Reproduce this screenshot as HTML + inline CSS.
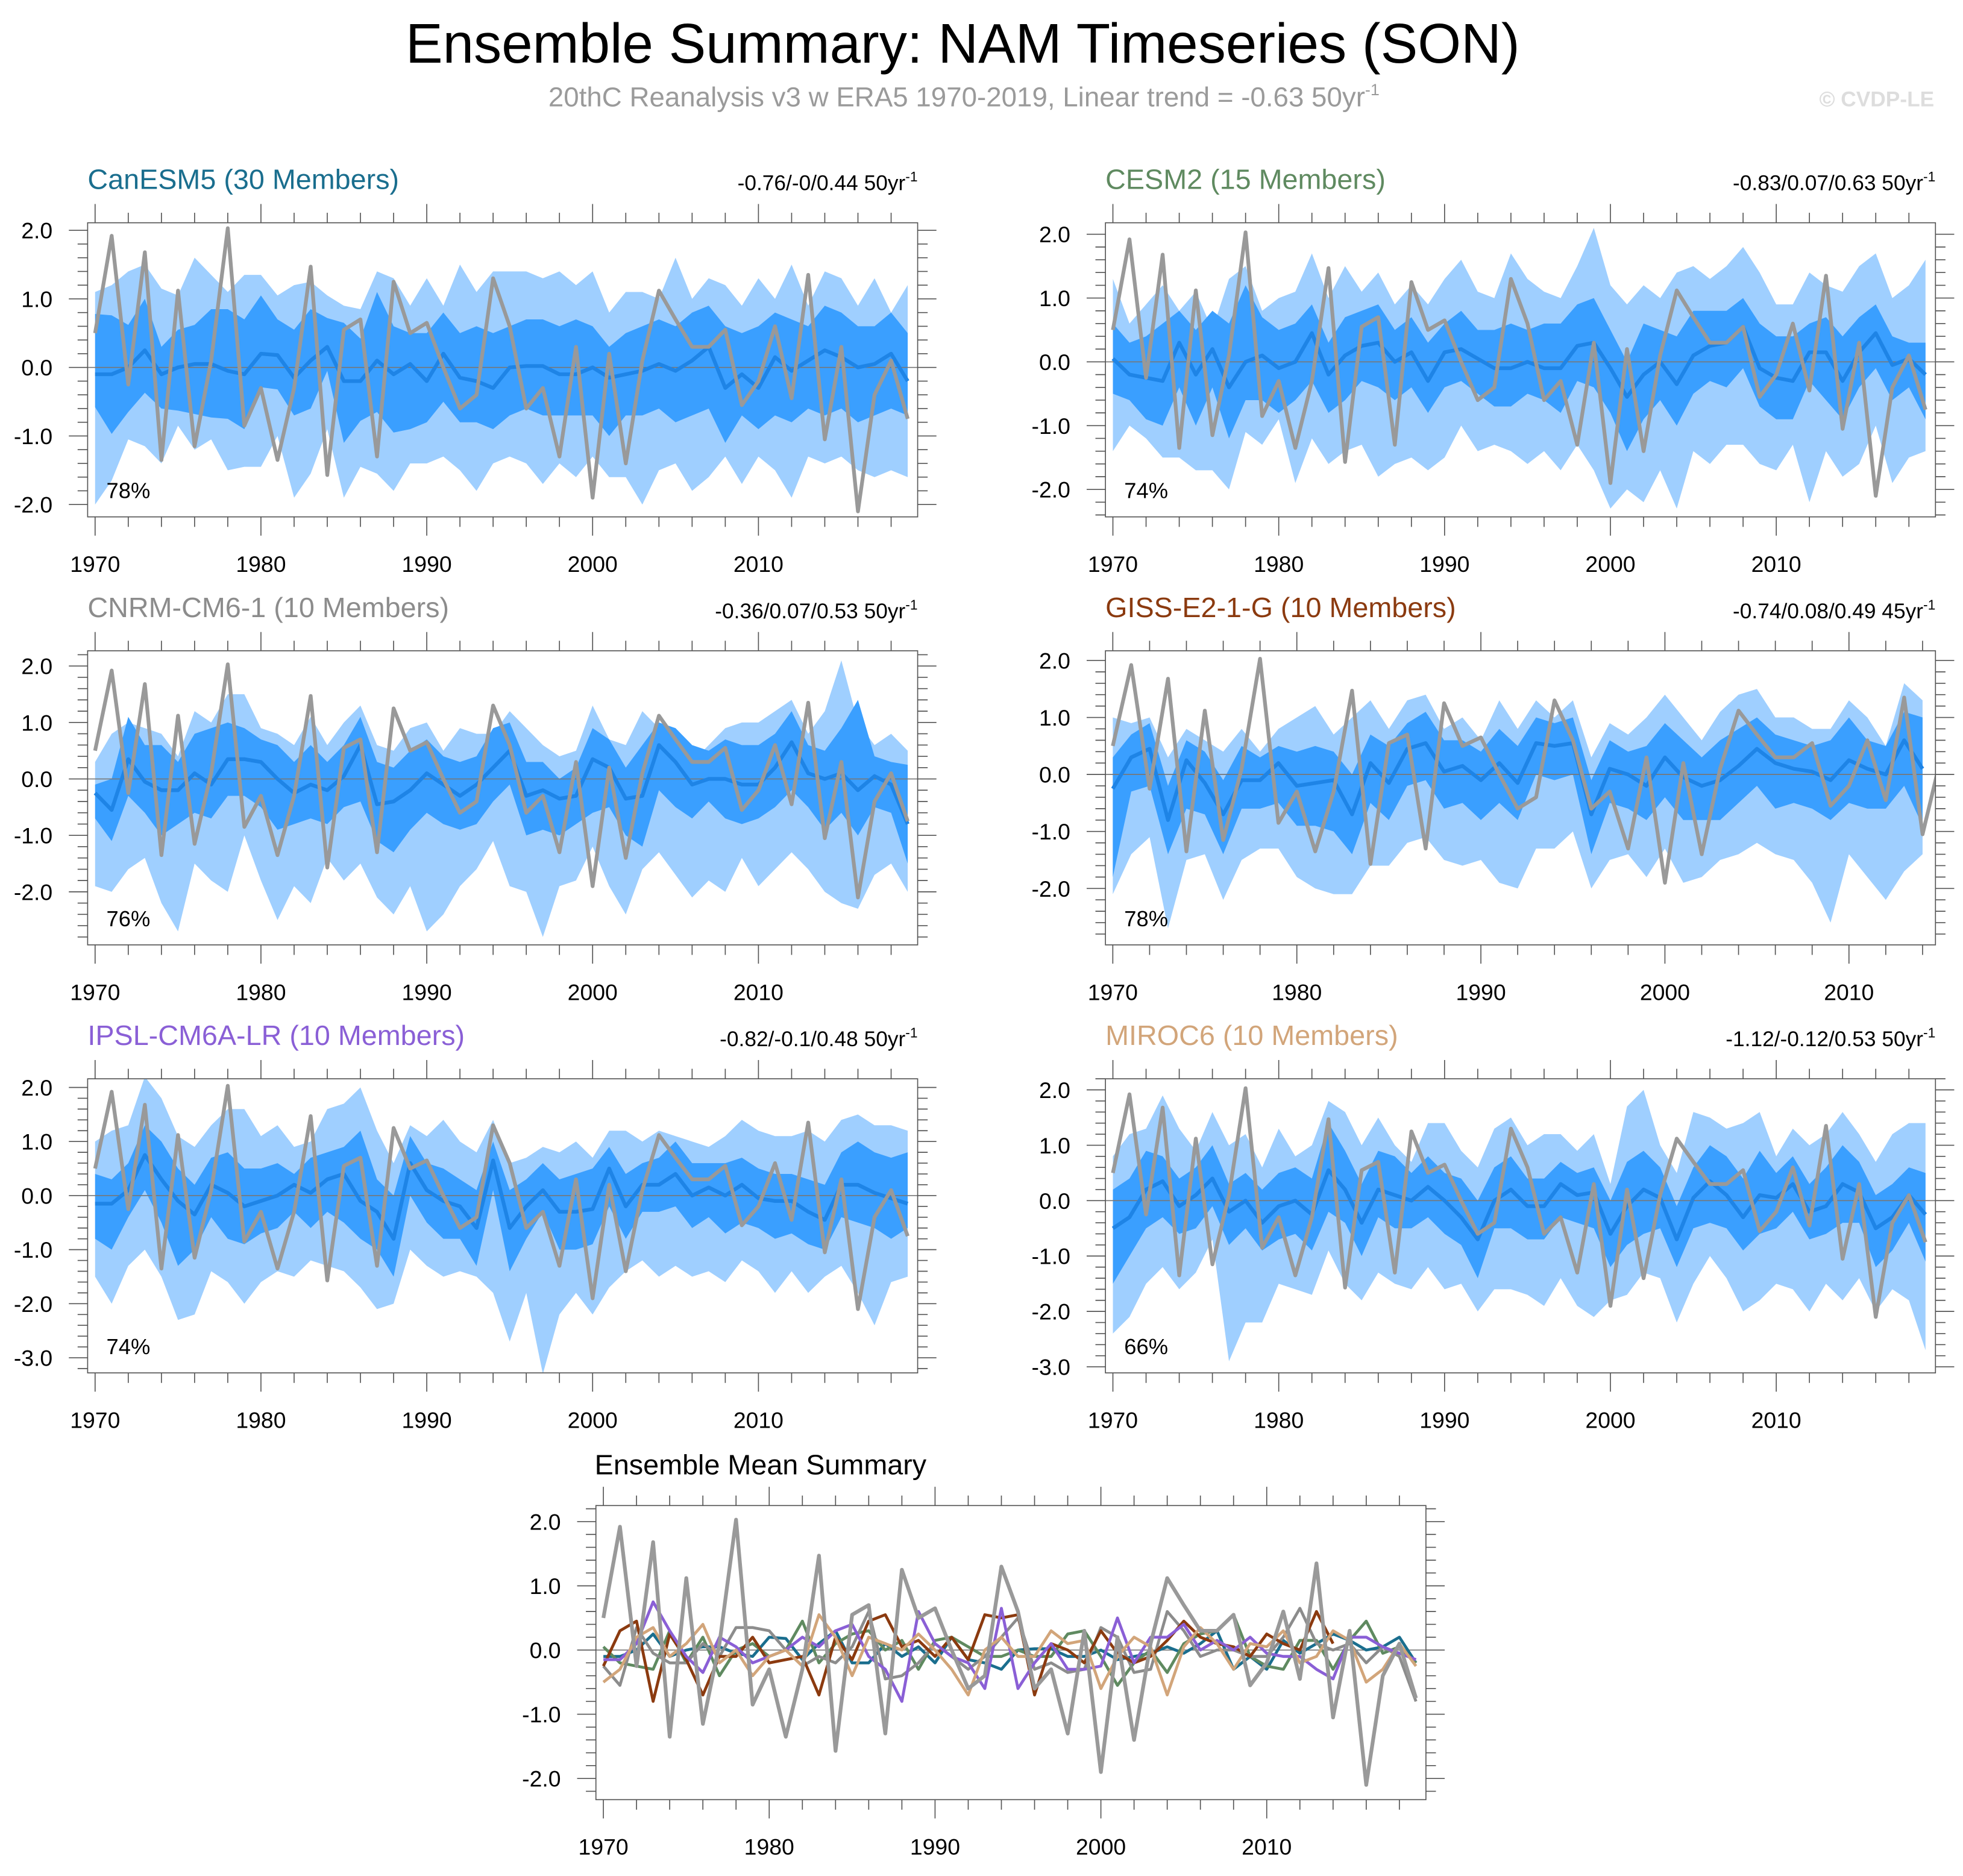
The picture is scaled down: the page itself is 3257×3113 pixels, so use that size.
<!DOCTYPE html>
<html><head><meta charset="utf-8"><style>
html,body{margin:0;padding:0;background:#fff}
svg{display:block}
text{font-family:"Liberation Sans",sans-serif}
</style></head><body>
<svg id="chart" width="3257" height="3113" viewBox="0 0 1568 1499" preserveAspectRatio="none" xmlns="http://www.w3.org/2000/svg">
<text x="769" y="50" font-size="44.5" text-anchor="middle">Ensemble Summary: NAM Timeseries (SON)</text>
<text x="770" y="85" font-size="22" fill="#9a9a9a" text-anchor="middle">20thC Reanalysis v3 w ERA5 1970-2019, Linear trend = -0.63 50yr<tspan font-size="13" dy="-9">-1</tspan></text>
<text x="1545" y="85" font-size="17" fill="#dddddd" font-weight="bold" text-anchor="end">© CVDP-LE</text>
<text x="475" y="1178" font-size="22.5">Ensemble Mean Summary</text>
</svg>
<script>
const years = [];
for (let y = 1970; y <= 2019; y++) years.push(y);
const obs = [0.5,1.92,-0.25,1.68,-1.35,1.12,-1.15,0.1,2.03,-0.85,-0.3,-1.35,-0.3,1.47,-1.57,0.55,0.7,-1.3,1.25,0.5,0.65,0.0,-0.6,-0.4,1.3,0.6,-0.6,-0.3,-1.3,0.3,-1.9,0.2,-1.4,0.1,1.12,0.7,0.3,0.3,0.55,-0.55,-0.2,0.6,-0.45,1.35,-1.05,0.3,-2.1,-0.4,0.1,-0.75];

const canMean = [-0.1,-0.1,0.0,0.25,-0.1,0.0,0.05,0.05,-0.05,-0.1,0.2,0.18,-0.15,0.1,0.3,-0.2,-0.2,0.1,-0.1,0.05,-0.2,0.2,-0.15,-0.2,-0.3,0.0,0.02,0.02,-0.1,-0.1,0.0,-0.15,-0.1,-0.05,0.05,-0.05,0.1,0.3,-0.3,-0.1,-0.3,0.15,-0.05,0.1,0.25,0.15,0.0,0.05,0.2,-0.2];
const canLightHi = [1.1,1.2,1.4,1.5,1.15,1.05,1.6,1.35,1.1,1.35,1.35,1.05,1.2,1.25,1.05,0.9,0.85,1.4,1.3,0.9,1.3,0.9,1.5,1.1,1.4,1.4,1.4,1.3,1.4,1.2,1.4,0.8,1.1,1.1,1.0,1.6,1.0,1.3,1.2,0.9,1.3,1.0,1.5,0.9,1.4,1.3,0.9,1.3,0.8,1.2];
const canLightLo = [-2.0,-1.65,-1.05,-1.15,-1.4,-0.85,-1.2,-1.05,-1.5,-1.45,-1.45,-1.0,-1.9,-1.55,-0.9,-1.9,-1.45,-1.55,-1.8,-1.4,-1.4,-1.3,-1.5,-1.8,-1.4,-1.3,-1.4,-1.7,-1.4,-1.6,-1.3,-1.6,-1.6,-2.0,-1.5,-1.4,-1.8,-1.6,-1.3,-1.7,-1.3,-1.5,-1.9,-1.3,-1.4,-1.3,-1.5,-1.6,-1.5,-1.6];
const canDarkHi = [0.78,0.76,0.62,1.0,0.3,0.55,0.62,0.85,0.85,0.7,1.05,0.7,0.55,0.85,0.72,0.65,0.42,1.1,0.6,0.5,0.5,0.8,0.5,0.6,0.5,0.6,0.7,0.7,0.6,0.7,0.6,0.3,0.5,0.6,0.7,0.6,0.8,0.9,0.6,0.5,0.6,0.8,0.7,0.6,0.9,0.8,0.6,0.6,0.8,0.5];
const canDarkLo = [-0.58,-0.97,-0.65,-0.37,-0.6,-0.63,-0.68,-0.73,-0.75,-0.9,-0.29,-0.32,-0.7,-0.6,-0.05,-1.1,-0.78,-0.65,-0.95,-0.9,-0.8,-0.5,-0.8,-0.8,-0.9,-0.7,-0.6,-0.7,-0.7,-0.7,-0.7,-1.0,-0.7,-0.7,-0.6,-0.8,-0.7,-0.6,-1.1,-0.7,-0.9,-0.7,-0.8,-0.6,-0.7,-0.6,-0.8,-0.7,-0.6,-0.7];

const cesmMean = [0.05,-0.2,-0.25,-0.3,0.3,-0.2,0.2,-0.4,0.0,0.1,-0.1,0.0,0.45,-0.2,0.1,0.25,0.3,0.0,0.15,-0.3,0.15,0.2,0.05,-0.1,-0.1,0.0,-0.1,-0.1,0.25,0.3,-0.1,-0.55,-0.2,0.0,-0.35,0.1,0.25,0.3,0.55,-0.1,-0.25,-0.3,0.15,0.15,-0.3,0.15,0.45,-0.05,0.05,-0.2];
const cesmLightHi = [1.3,0.6,0.9,1.2,0.8,1.1,0.5,1.3,1.5,0.8,1.0,1.1,1.7,1.0,1.5,1.1,1.4,0.9,1.2,0.9,1.3,1.6,1.1,1.0,1.7,1.3,1.1,1.0,1.5,2.1,1.2,0.9,1.2,1.0,1.4,1.5,1.3,1.5,1.8,1.4,0.9,0.9,1.4,1.2,1.1,1.5,1.7,1.0,1.2,1.6];
const cesmLightLo = [-1.4,-1.0,-1.2,-1.5,-1.5,-1.7,-1.7,-2.0,-1.1,-1.3,-0.9,-1.9,-1.2,-1.6,-1.4,-1.3,-1.8,-1.6,-1.5,-1.7,-1.5,-1.0,-1.4,-1.3,-1.4,-1.6,-1.4,-1.7,-1.3,-1.7,-2.3,-2.0,-2.2,-1.7,-2.3,-1.4,-1.6,-1.3,-1.3,-1.6,-1.7,-1.3,-2.2,-1.4,-1.8,-1.6,-1.0,-1.9,-1.5,-1.4];
const cesmDarkHi = [0.6,0.3,0.4,0.6,0.8,0.5,0.8,0.6,1.2,0.7,0.5,0.6,0.9,0.3,0.7,0.8,0.9,0.5,0.7,0.3,0.6,0.8,0.5,0.5,0.6,0.5,0.6,0.6,0.9,1.0,0.5,0.0,0.6,0.5,0.4,0.8,0.8,0.8,1.0,0.6,0.4,0.4,0.6,0.7,0.4,0.7,0.9,0.4,0.3,0.3];
const cesmDarkLo = [-0.5,-0.6,-0.9,-1.0,-0.4,-1.0,-0.4,-1.2,-0.6,-0.6,-0.8,-0.6,-0.3,-0.8,-0.6,-0.3,-0.4,-0.6,-0.4,-0.8,-0.4,-0.3,-0.5,-0.7,-0.7,-0.5,-0.6,-0.8,-0.3,-0.4,-0.8,-1.4,-0.9,-0.6,-1.0,-0.5,-0.3,-0.4,-0.1,-0.7,-0.9,-0.9,-0.3,-0.6,-0.9,-0.4,-0.1,-0.6,-0.4,-0.9];

const cnrmMean = [-0.25,-0.55,0.35,-0.05,-0.2,-0.2,0.1,-0.1,0.35,0.35,0.3,0.0,-0.25,-0.1,-0.2,0.05,0.6,-0.45,-0.4,-0.2,0.1,-0.1,-0.3,-0.1,0.2,0.5,-0.3,-0.2,-0.35,-0.3,0.35,0.2,-0.35,-0.3,0.6,0.3,-0.1,0.0,0.0,-0.1,-0.1,0.2,0.65,0.1,0.0,0.1,-0.2,0.05,-0.1,-0.8];
const cnrmLightHi = [0.3,0.8,1.0,0.9,0.8,0.4,1.2,1.0,1.5,1.5,0.9,0.8,0.6,1.1,0.6,1.0,1.3,0.6,0.5,0.9,1.0,0.5,0.9,0.8,0.8,1.2,0.9,0.6,0.4,0.5,1.3,0.7,0.6,1.2,0.9,0.8,0.3,0.6,0.9,1.0,1.0,1.2,1.4,0.8,1.2,2.1,1.0,0.6,0.8,0.5];
const cnrmLightLo = [-1.9,-2.0,-1.6,-1.4,-2.2,-2.7,-1.5,-1.8,-2.0,-1.0,-1.8,-2.5,-1.9,-2.2,-1.4,-1.8,-1.5,-2.1,-2.4,-1.9,-2.7,-2.4,-1.9,-1.6,-1.1,-1.9,-2.0,-2.8,-1.9,-1.8,-1.2,-1.9,-2.4,-1.6,-1.3,-1.7,-2.1,-1.8,-2.0,-1.4,-1.9,-1.6,-1.3,-1.6,-2.0,-2.2,-2.3,-1.7,-1.5,-2.0];
const cnrmDarkHi = [-0.1,0.0,1.1,0.6,0.6,0.3,0.8,0.9,1.0,0.9,0.7,0.6,0.3,0.6,0.3,0.6,1.1,0.3,0.2,0.5,0.7,0.4,0.3,0.4,0.9,1.0,0.3,0.3,0.0,0.2,0.9,0.7,0.2,0.6,1.0,0.9,0.6,0.5,0.7,0.6,0.6,0.8,1.2,0.6,0.5,0.9,1.4,0.4,0.3,0.25];
const cnrmDarkLo = [-0.7,-1.1,-0.3,-0.6,-1.0,-0.8,-0.6,-0.7,-0.3,-0.3,-0.5,-0.9,-0.8,-0.7,-0.8,-0.5,-0.4,-1.1,-1.3,-0.9,-0.6,-0.8,-0.9,-0.8,-0.4,-0.1,-1.0,-0.9,-1.0,-0.8,-0.6,-0.5,-1.0,-1.2,-0.2,-0.5,-0.7,-0.4,-0.7,-0.8,-0.7,-0.5,-0.2,-0.5,-0.9,-0.6,-1.0,-0.5,-0.6,-1.5];

const gissMean = [-0.25,0.3,0.45,-0.8,0.25,-0.15,-0.7,-0.1,-0.1,0.2,-0.2,-0.15,-0.1,-0.7,0.2,-0.15,0.45,0.55,0.05,0.15,-0.1,0.2,-0.15,0.55,0.5,0.55,-0.7,0.1,0.0,-0.2,0.3,-0.05,-0.2,-0.1,0.15,0.45,0.2,0.1,0.05,-0.1,0.25,0.1,0.0,0.6,0.1];
const gissLightHi = [1.0,0.9,1.0,0.3,0.8,0.6,0.4,0.8,0.4,0.8,1.0,1.2,0.7,1.0,1.3,0.8,1.3,1.4,0.8,1.0,0.6,1.3,0.8,1.3,1.0,1.3,0.3,0.9,0.7,1.0,1.4,1.0,0.6,1.1,1.4,1.5,1.0,1.0,0.8,0.8,1.3,1.0,0.5,1.6,1.3];
const gissLightLo = [-2.1,-1.4,-1.1,-2.7,-1.5,-1.4,-2.2,-1.5,-1.3,-1.3,-1.8,-2.0,-2.1,-2.1,-1.6,-1.6,-1.2,-1.1,-1.5,-1.6,-1.5,-1.9,-2.0,-1.3,-1.3,-1.0,-2.0,-1.5,-1.4,-1.8,-1.3,-1.9,-1.8,-1.5,-1.4,-1.2,-1.4,-1.5,-1.9,-2.6,-1.4,-1.8,-2.2,-1.7,-1.4];
const gissDarkHi = [0.3,0.7,0.9,-0.2,0.6,0.4,-0.1,0.5,0.3,0.5,0.4,0.5,0.4,0.0,0.7,0.5,0.9,1.1,0.6,0.6,0.4,0.8,0.5,1.0,0.9,1.0,-0.1,0.6,0.4,0.5,0.9,0.6,0.3,0.6,0.8,1.0,0.7,0.6,0.5,0.6,1.0,0.6,0.5,1.1,1.0];
const gissDarkLo = [-1.8,-0.3,-0.2,-1.4,-0.6,-0.7,-1.4,-0.6,-0.6,-0.5,-0.9,-0.9,-1.0,-1.4,-0.5,-0.8,-0.2,-0.1,-0.6,-0.5,-0.8,-0.5,-0.8,0.0,-0.1,0.0,-1.4,-0.5,-0.6,-0.8,-0.4,-0.8,-0.8,-0.8,-0.5,-0.2,-0.6,-0.5,-0.6,-0.8,-0.5,-0.6,-0.6,-0.2,-0.9];

const ipslMean = [-0.15,-0.15,0.1,0.75,0.3,-0.1,-0.35,0.2,0.05,-0.2,-0.1,0.0,0.2,0.05,0.3,0.4,-0.1,-0.3,-0.8,0.6,0.1,-0.1,-0.2,-0.6,0.65,-0.6,-0.2,0.1,-0.3,-0.3,-0.25,0.5,-0.2,0.2,0.2,0.4,0.0,0.15,0.0,0.2,-0.05,-0.1,-0.1,-0.3,-0.45,0.2,0.2,0.05,-0.05,-0.15];
const ipslLightHi = [1.0,1.2,1.3,2.2,1.8,1.1,0.9,1.3,1.6,1.6,1.1,1.3,0.9,1.0,1.6,1.7,2.0,1.2,0.6,1.3,1.1,1.4,1.0,0.8,1.4,0.6,0.7,0.9,0.8,1.0,0.7,1.2,1.2,1.0,1.2,1.1,1.0,0.9,1.1,1.4,1.2,1.1,1.1,1.2,1.0,1.4,1.5,1.3,1.3,1.2];
const ipslLightLo = [-1.5,-2.0,-1.3,-1.0,-1.5,-2.3,-2.2,-1.4,-1.6,-2.0,-1.6,-1.4,-1.5,-1.2,-1.3,-1.4,-1.7,-2.1,-2.0,-1.0,-1.3,-1.5,-1.4,-1.5,-1.8,-2.7,-1.8,-3.3,-2.2,-1.8,-2.2,-1.7,-1.4,-1.2,-1.5,-1.3,-1.5,-1.4,-1.6,-1.2,-1.4,-1.8,-1.4,-1.8,-1.5,-1.3,-1.8,-2.4,-1.6,-1.5];
const ipslDarkHi = [0.4,0.3,0.6,1.3,1.0,0.5,0.2,0.7,0.8,0.5,0.5,0.6,0.4,0.7,0.8,0.9,1.2,0.3,0.0,1.1,0.6,0.5,0.3,0.1,1.0,0.1,0.3,0.6,0.3,0.4,0.5,0.9,0.4,0.6,0.7,1.0,0.6,0.6,0.6,0.7,0.5,0.4,0.4,0.3,0.2,0.8,1.0,0.8,0.7,0.8];
const ipslDarkLo = [-0.8,-1.0,-0.4,0.1,-0.5,-1.3,-1.0,-0.4,-0.8,-0.9,-0.7,-0.6,-0.3,-0.6,-0.3,-0.5,-0.8,-1.0,-1.5,0.0,-0.5,-0.8,-0.8,-1.3,0.1,-1.4,-0.8,-0.3,-1.0,-1.0,-0.9,-0.2,-0.8,-0.3,-0.3,-0.2,-0.6,-0.4,-0.7,-0.5,-0.6,-0.8,-0.7,-0.9,-1.0,-0.4,-0.5,-0.6,-0.8,-0.6];

const mirocMean = [-0.5,-0.3,0.2,0.35,-0.1,0.1,0.4,-0.2,0.0,-0.4,-0.1,0.0,-0.25,0.55,0.2,-0.4,0.2,0.1,0.0,0.25,0.0,-0.3,-0.7,0.0,0.2,-0.1,-0.1,0.3,0.1,0.15,-0.6,-0.1,0.2,0.05,-0.7,0.05,0.35,0.1,-0.3,0.1,0.05,0.3,-0.2,-0.1,0.3,0.15,-0.5,-0.3,0.1,-0.25];
const mirocLightHi = [0.8,1.2,1.3,1.9,1.3,0.9,1.6,1.0,1.2,0.6,1.3,0.8,1.0,1.8,1.6,1.0,1.5,1.0,0.7,1.4,1.4,0.9,0.6,1.3,1.5,1.0,1.2,1.2,0.9,1.2,0.3,1.7,2.0,1.0,0.5,1.6,1.5,1.3,1.4,1.6,0.8,1.3,1.0,1.2,1.6,1.2,0.7,1.2,1.4,1.4];
const mirocLightLo = [-2.4,-2.1,-1.5,-1.2,-1.6,-1.3,-0.7,-2.9,-2.2,-2.2,-1.5,-1.6,-1.7,-0.9,-1.5,-1.8,-1.3,-1.5,-1.6,-1.2,-1.6,-1.5,-2.0,-1.6,-1.6,-1.7,-1.9,-1.4,-1.9,-2.1,-1.8,-1.7,-1.3,-1.4,-2.2,-1.5,-1.0,-1.4,-2.0,-1.8,-1.5,-1.6,-2.0,-1.5,-1.8,-1.4,-2.0,-1.6,-1.8,-2.7];
const mirocDarkHi = [0.2,0.4,0.9,0.8,0.4,0.6,1.0,0.3,0.5,0.2,0.5,0.6,0.4,1.4,0.9,0.3,0.9,0.8,0.5,0.8,0.5,0.4,0.0,0.6,0.8,0.4,0.4,0.7,0.5,0.6,0.0,0.7,0.9,0.6,-0.1,0.6,1.0,0.8,0.4,0.9,0.5,0.8,0.3,0.6,1.0,0.7,0.1,0.3,0.6,0.5];
const mirocDarkLo = [-1.5,-1.0,-0.5,-0.3,-0.6,-0.5,-0.1,-0.8,-0.5,-0.9,-0.7,-0.6,-0.9,-0.2,-0.4,-1.0,-0.3,-0.5,-0.5,-0.3,-0.6,-0.8,-1.4,-0.5,-0.5,-0.7,-0.7,-0.3,-0.4,-0.5,-1.2,-0.8,-0.6,-0.5,-1.2,-0.5,-0.4,-0.5,-0.9,-0.6,-0.5,-0.2,-0.7,-0.6,-0.4,-0.4,-1.2,-0.9,-0.4,-1.1];

const svg = document.getElementById('chart');
const NS = 'http://www.w3.org/2000/svg';
function mk(tag, attrs, parent) {
  const e = document.createElementNS(NS, tag);
  for (const k in attrs) e.setAttribute(k, attrs[k]);
  (parent || svg).appendChild(e);
  return e;
}
const LIGHT = '#9fcfff', DARK = '#3a9fff', MEANC = '#1e84e6', OBSC = '#999999';

function drawPanel(p, idx) {
  const g = mk('g', {});
  
  
  const x0 = p.x, x1 = p.x + 663, y0 = p.y, y1 = p.y + 235;
  const xs = (yr) => x0 + (yr - p.xmin) / (p.xmax - p.xmin) * (x1 - x0);
  const ys = (v) => y0 + (p.ymax - v) / (p.ymax - p.ymin) * (y1 - y0);
  const cid = 'clip' + idx;
  const cp = mk('clipPath', {id: cid}, g);
  mk('rect', {x: x0, y: y0, width: 663, height: 235}, cp);
  const body = mk('g', {'clip-path': 'url(#' + cid + ')'}, g);
  function band(hi, lo, fill, nm) {
    const n = Math.min(hi.length, lo.length);
    let pts = [];
    for (let i = 0; i < n; i++) pts.push(xs(years[i]) + ',' + ys(hi[i]));
    for (let i = n - 1; i >= 0; i--) pts.push(xs(years[i]) + ',' + ys(lo[i]));
    const e = mk('polygon', {points: pts.join(' '), fill: fill}, body);
    
    
  }
  function line(vals, color, w, nm) {
    const pts = vals.map((v, i) => xs(years[i]) + ',' + ys(v)).join(' ');
    const e = mk('polyline', {points: pts, fill: 'none', stroke: color, 'stroke-width': w, 'stroke-linejoin': 'round'}, body);
    
    
  }
  if (p.bands) {
    band(p.lightHi, p.lightLo, LIGHT, 'outer-range-band');
    band(p.darkHi, p.darkLo, DARK, 'inner-range-band');
  }
  mk('line', {x1: x0, x2: x1, y1: ys(0), y2: ys(0), stroke: '#777', 'stroke-width': 0.8}, body);
  if (p.lines) {
    p.lines.forEach(l => line(l.vals, l.color, 2.3, l.nm));
  } else {
    line(p.mean, MEANC, 3, 'ensemble-mean-line');
  }
  line(obs, OBSC, 3, 'observed-line');
  const fr = mk('rect', {x: x0, y: y0, width: 663, height: 235, fill: 'none', stroke: '#555', 'stroke-width': 0.8}, g);
  
  
  for (let yr = 1970; yr <= Math.floor(p.xmax); yr += 2) {
    const X = xs(yr), major = (yr % 10 === 0), L = major ? 15 : 8;
    mk('line', {x1: X, x2: X, y1: y1, y2: y1 + L, stroke: '#555', 'stroke-width': 0.8}, g);
    mk('line', {x1: X, x2: X, y1: y0, y2: y0 - L, stroke: '#555', 'stroke-width': 0.8}, g);
    if (major) {
      const t = mk('text', {x: X, y: y1 + 44, 'font-size': 18, 'text-anchor': 'middle'}, g);
      t.textContent = yr;
      
      
    }
  }
  for (let k = Math.ceil(p.ymin * 5); k <= Math.floor(p.ymax * 5); k++) {
    const v = k / 5, Y = ys(v), major = (k % 5 === 0), L = major ? 15 : 8;
    mk('line', {x1: x0, x2: x0 - L, y1: Y, y2: Y, stroke: '#555', 'stroke-width': 0.8}, g);
    mk('line', {x1: x1, x2: x1 + L, y1: Y, y2: Y, stroke: '#555', 'stroke-width': 0.8}, g);
    if (major) {
      const t = mk('text', {x: x0 - 28, y: Y + 6.5, 'font-size': 18, 'text-anchor': 'end'}, g);
      t.textContent = v.toFixed(1);
      
      
    }
  }
  if (p.title) {
    const t = mk('text', {x: x0, y: y0 - 27, 'font-size': 22.5, fill: p.color}, g);
    t.textContent = p.title;
    
    
  }
  if (p.trend) {
    const t = mk('text', {x: x1, y: y0 - 26, 'font-size': 17, 'text-anchor': 'end'}, g);
    
    
    t.appendChild(document.createTextNode(p.trend + ' ' + p.per + 'yr'));
    const s = mk('tspan', {'font-size': 11, dy: -7}, t);
    s.textContent = '-1';
  }
  if (p.pct) {
    const t = mk('text', {x: x0 + 15, y: y1 - 15, 'font-size': 17.5}, g);
    t.textContent = p.pct;
    
    
  }
}

const panels = [
  {name:'canesm5-panel', x:70, y:178, xmin:1969.55, xmax:2019.6, ymin:-2.18, ymax:2.11, title:'CanESM5 (30 Members)', color:'#1a6e8e', trend:'-0.76/-0/0.44', per:'50', pct:'78%', bands:true, mean:canMean, lightHi:canLightHi, lightLo:canLightLo, darkHi:canDarkHi, darkLo:canDarkLo},
  {name:'cesm2-panel', x:883, y:178, xmin:1969.55, xmax:2019.6, ymin:-2.43, ymax:2.18, title:'CESM2 (15 Members)', color:'#5f8a60', trend:'-0.83/0.07/0.63', per:'50', pct:'74%', bands:true, mean:cesmMean, lightHi:cesmLightHi, lightLo:cesmLightLo, darkHi:cesmDarkHi, darkLo:cesmDarkLo},
  {name:'cnrm-cm6-1-panel', x:70, y:520, xmin:1969.55, xmax:2019.6, ymin:-2.94, ymax:2.27, title:'CNRM-CM6-1 (10 Members)', color:'#8c8c8c', trend:'-0.36/0.07/0.53', per:'50', pct:'76%', bands:true, mean:cnrmMean, lightHi:cnrmLightHi, lightLo:cnrmLightLo, darkHi:cnrmDarkHi, darkLo:cnrmDarkLo},
  {name:'giss-e2-1-g-panel', x:883, y:520, xmin:1969.6, xmax:2014.7, ymin:-2.99, ymax:2.17, title:'GISS-E2-1-G (10 Members)', color:'#8b3a0f', trend:'-0.74/0.08/0.49', per:'45', pct:'78%', bands:true, mean:gissMean, lightHi:gissLightHi, lightLo:gissLightLo, darkHi:gissDarkHi, darkLo:gissDarkLo},
  {name:'ipsl-cm6a-lr-panel', x:70, y:862, xmin:1969.55, xmax:2019.6, ymin:-3.28, ymax:2.16, title:'IPSL-CM6A-LR (10 Members)', color:'#8a5fd6', trend:'-0.82/-0.1/0.48', per:'50', pct:'74%', bands:true, mean:ipslMean, lightHi:ipslLightHi, lightLo:ipslLightLo, darkHi:ipslDarkHi, darkLo:ipslDarkLo},
  {name:'miroc6-panel', x:883, y:862, xmin:1969.55, xmax:2019.6, ymin:-3.11, ymax:2.2, title:'MIROC6 (10 Members)', color:'#d2a57a', trend:'-1.12/-0.12/0.53', per:'50', pct:'66%', bands:true, mean:mirocMean, lightHi:mirocLightHi, lightLo:mirocLightLo, darkHi:mirocDarkHi, darkLo:mirocDarkLo},
  {name:'ensemble-mean-summary-panel', x:476, y:1203, xmin:1969.55, xmax:2019.6, ymin:-2.33, ymax:2.25, bands:false,
   lines:[
    {vals:canMean, color:'#1a6e8e', nm:'canesm5-mean-line'},
    {vals:cesmMean, color:'#5f8a60', nm:'cesm2-mean-line'},
    {vals:cnrmMean, color:'#8c8c8c', nm:'cnrm-mean-line'},
    {vals:gissMean, color:'#8b3a0f', nm:'giss-mean-line'},
    {vals:ipslMean, color:'#8a5fd6', nm:'ipsl-mean-line'},
    {vals:mirocMean, color:'#d2a57a', nm:'miroc6-mean-line'}
   ]}
];
panels.forEach((p, i) => drawPanel(p, i));
</script>
</body></html>
